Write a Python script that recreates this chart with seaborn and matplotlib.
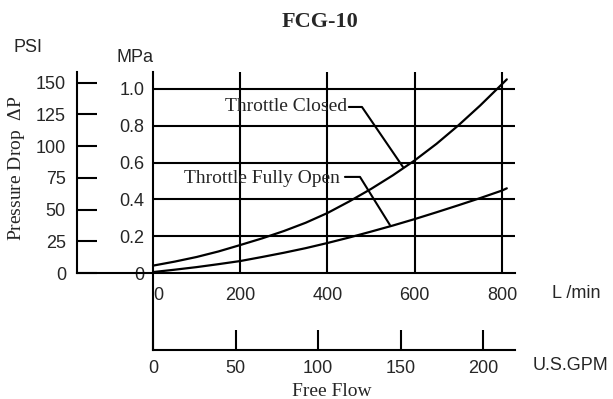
import matplotlib.pyplot as plt
import pandas as pd
import seaborn as sns

# values
flow_lpm = [0, 50, 100, 150, 200, 250, 300, 350, 400, 450, 500, 550, 600, 650, 700, 750, 800, 811]
closed_mpa = [0.04, 0.062, 0.087, 0.117, 0.152, 0.188, 0.228, 0.273, 0.326, 0.389, 0.457, 0.531,
              0.612, 0.702, 0.802, 0.91, 1.026, 1.052]
open_mpa = [0.005, 0.018, 0.032, 0.048, 0.065, 0.087, 0.11, 0.135, 0.163, 0.193, 0.225, 0.258,
            0.293, 0.33, 0.368, 0.407, 0.448, 0.46]

lpm_ticks = [0, 200, 400, 600, 800]
mpa_ticks = [0, 0.2, 0.4, 0.6, 0.8, 1.0]
psi_ticks = [0, 25, 50, 75, 100, 125, 150]
gpm_ticks = [0, 50, 100, 150, 200]

PSI_PER_MPA = 145.038
LPM_PER_GPM = 3.78541

W, H = 613, 399


def fx(px):
    return px / W


def fy(py):
    return 1 - py / H


sns.set_style("white")
plt.rcParams["font.family"] = ["Liberation Sans", "DejaVu Sans"]
plt.rcParams["mathtext.fontset"] = "custom"
plt.rcParams["mathtext.rm"] = "Liberation Serif"
plt.rcParams["mathtext.it"] = "Liberation Serif:italic"
SERIF = ["Liberation Serif", "DejaVu Serif", "DejaVu Sans"]
LW = 1.5

fig = plt.figure(figsize=(6.13, 3.99), dpi=100)
ax = fig.add_axes([fx(77), fy(273), fx(515) - fx(77), fy(72) - fy(273)])
x_left, x_right = -174.2, 829.8
y_top = 1.092
ax.set_xlim(x_left, x_right)
ax.set_ylim(0, y_top)

df = pd.DataFrame({
    "flow": flow_lpm * 2,
    "dp": closed_mpa + open_mpa,
    "state": ["Throttle Closed"] * len(flow_lpm) + ["Throttle Fully Open"] * len(flow_lpm),
})
sns.lineplot(data=df, x="flow", y="dp", hue="state", palette=["black", "black"],
             lw=1.6, legend=False, ax=ax)
ax.set_xlabel("")
ax.set_ylabel("")

# grid
ax.hlines(mpa_ticks[1:], 0, x_right, color="black", lw=LW)
ax.vlines(lpm_ticks[1:], 0, y_top, color="black", lw=LW)

for s in ["top", "right"]:
    ax.spines[s].set_visible(False)
for s in ["left", "bottom"]:
    ax.spines[s].set_linewidth(LW)
    ax.spines[s].set_color("black")

# PSI axis (left spine)
ax.set_yticks([p / PSI_PER_MPA for p in psi_ticks], labels=[str(p) for p in psi_ticks])
ax.tick_params(axis="y", direction="in", length=14.4, width=LW, pad=8, labelsize=13,
               left=True, color="black")

# L/min labels
ax.set_xticks(lpm_ticks, labels=[str(v) for v in lpm_ticks])
ax.tick_params(axis="x", length=0, pad=10, labelsize=13)
ax.get_xticklabels()[0].set_ha("left")

# MPa axis
sec = ax.secondary_yaxis((0 - x_left) / (x_right - x_left))
sec.set_yticks(mpa_ticks, labels=["0", "0.2", "0.4", "0.6", "0.8", "1.0"])
sec.tick_params(length=0, pad=6, labelsize=13)
sec.spines["left"].set_linewidth(LW)
sec.spines["left"].set_color("black")

# GPM axis
gx = fig.add_axes([fx(153), fy(350), fx(515) - fx(153), fy(273) - fy(350)])
gx.patch.set_visible(False)
gx.set_xlim(0, x_right / LPM_PER_GPM)
gx.set_ylim(0, 1)
gx.set_yticks([])
for s in ["top", "right"]:
    gx.spines[s].set_visible(False)
for s in ["left", "bottom"]:
    gx.spines[s].set_linewidth(LW)
    gx.spines[s].set_color("black")
gx.set_xticks(gpm_ticks, labels=[str(v) for v in gpm_ticks])
gx.tick_params(axis="x", direction="in", length=14.4, width=LW, pad=7, labelsize=13,
               bottom=True, color="black")

# annotations
ax.text(444.7, 0.902, "Throttle Closed", ha="right", va="center", family=SERIF, fontsize=14)
ax.plot([449, 479, 573], [0.902, 0.902, 0.576], color="black", lw=LW)
ax.text(428.6, 0.516, "Throttle Fully Open", ha="right", va="center", family=SERIF, fontsize=14)
ax.plot([440, 474.5, 543], [0.522, 0.522, 0.261], color="black", lw=LW)

# figure texts
fig.text(fx(320), fy(22), "FCG-10", ha="center", va="center", family=SERIF,
         fontweight="bold", fontsize=16)
fig.text(fx(28), fy(48), "PSI", ha="center", va="center", fontsize=13)
fig.text(fx(135), fy(57), "MPa", ha="center", va="center", fontsize=13)
fig.text(fx(552), fy(293), "L /min", ha="left", va="center", fontsize=13)
fig.text(fx(533), fy(365), "U.S.GPM", ha="left", va="center", fontsize=13)
fig.text(fx(332), fy(391), "Free Flow", ha="center", va="center", family=SERIF, fontsize=14)
fig.text(fx(17), fy(168), r"Pressure Drop  $\mathit{\Delta}$P", ha="center", va="center",
         rotation=90, family=SERIF, fontsize=14)

fig.savefig("out.png", dpi=100)
